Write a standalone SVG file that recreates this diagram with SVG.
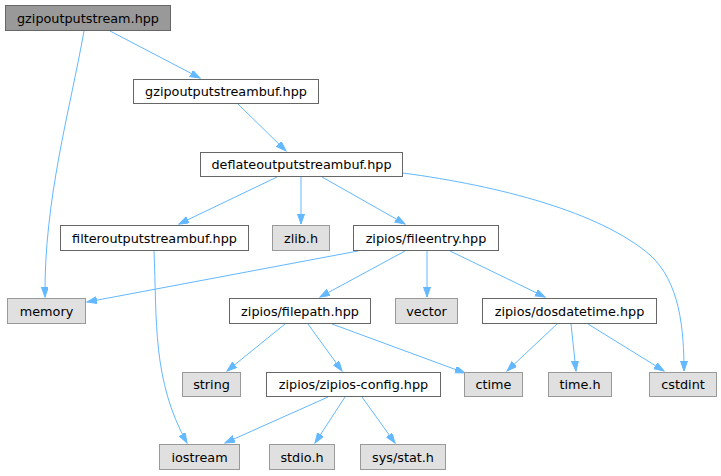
<svg xmlns="http://www.w3.org/2000/svg" width="721" height="476" viewBox="0 0 721 476">
<defs>
<style>
text{font-family:"DejaVu Sans",Verdana,sans-serif;font-size:12.8px;fill:#000;text-anchor:middle}
.n rect{fill:#fff;stroke:#666}
.x rect{fill:#e0e0e0;stroke:#999}
.r rect{fill:#999;stroke:#666}
#edges path{fill:none;stroke:#63b8ff;stroke-width:1}
</style>
<marker id="a" markerUnits="userSpaceOnUse" markerWidth="11" markerHeight="8" refX="10" refY="3.5" orient="auto">
<path d="M0,0 L10,3.5 L0,7 z" fill="#63b8ff" stroke="#63b8ff"/>
</marker>
</defs>
<rect width="721" height="476" fill="#fff"/>
<g id="edges">
<path d="M110,31 L200,78" marker-end="url(#a)"/>
<path d="M84,31 C70,110 44,200 45,297" marker-end="url(#a)"/>
<path d="M238,104 L286,151" marker-end="url(#a)"/>
<path d="M277,177 L179,224" marker-end="url(#a)"/>
<path d="M301,177 L301,224" marker-end="url(#a)"/>
<path d="M322,177 L405,224" marker-end="url(#a)"/>
<path d="M403,173 C500,186 600,212 650,255 C680,282 684,330 684,371" marker-end="url(#a)"/>
<path d="M358,251 L87,302" marker-end="url(#a)"/>
<path d="M405,251 L320,297" marker-end="url(#a)"/>
<path d="M427,251 L427,297" marker-end="url(#a)"/>
<path d="M450,251 L545,297" marker-end="url(#a)"/>
<path d="M154,251 C157,320 152,380 187,443" marker-end="url(#a)"/>
<path d="M285,324 L227,371" marker-end="url(#a)"/>
<path d="M308,324 L342,371" marker-end="url(#a)"/>
<path d="M332,324 L465,373" marker-end="url(#a)"/>
<path d="M557,324 L507,371" marker-end="url(#a)"/>
<path d="M571,324 L576,371" marker-end="url(#a)"/>
<path d="M588,324 L664,371" marker-end="url(#a)"/>
<path d="M328,397 L225,443" marker-end="url(#a)"/>
<path d="M345,397 L315,443" marker-end="url(#a)"/>
<path d="M362,397 L395,443" marker-end="url(#a)"/>
</g>
<g id="n_root" class="r"><rect x="5.5" y="5.5" width="165" height="25"/><text x="88" y="22.5">gzipoutputstream.hpp</text></g>
<g id="n_gzbuf" class="n"><rect x="133.5" y="79.5" width="185" height="24"/><text x="226" y="96">gzipoutputstreambuf.hpp</text></g>
<g id="n_deflate" class="n"><rect x="200.5" y="152.5" width="202" height="24"/><text x="301.5" y="169">deflateoutputstreambuf.hpp</text></g>
<g id="n_filter" class="n"><rect x="60.5" y="225.5" width="188" height="25"/><text x="154.5" y="242.5">filteroutputstreambuf.hpp</text></g>
<g id="n_zlib" class="x"><rect x="272.5" y="225.5" width="57" height="25"/><text x="301" y="242.5">zlib.h</text></g>
<g id="n_fileentry" class="n"><rect x="353.5" y="225.5" width="145" height="25"/><text x="426" y="242.5">zipios/fileentry.hpp</text></g>
<g id="n_memory" class="x"><rect x="7.5" y="298.5" width="78" height="25"/><text x="46.5" y="315.5">memory</text></g>
<g id="n_filepath" class="n"><rect x="229.5" y="298.5" width="141" height="25"/><text x="300" y="315.5">zipios/filepath.hpp</text></g>
<g id="n_vector" class="x"><rect x="395.5" y="298.5" width="62" height="25"/><text x="426.5" y="315.5">vector</text></g>
<g id="n_dosdatetime" class="n"><rect x="482.5" y="298.5" width="174" height="25"/><text x="569.5" y="315.5">zipios/dosdatetime.hpp</text></g>
<g id="n_string" class="x"><rect x="182.5" y="372.5" width="58" height="24"/><text x="211.5" y="389">string</text></g>
<g id="n_config" class="n"><rect x="266.5" y="372.5" width="174" height="24"/><text x="353.5" y="389">zipios/zipios-config.hpp</text></g>
<g id="n_ctime" class="x"><rect x="464.5" y="372.5" width="58" height="24"/><text x="493.5" y="389">ctime</text></g>
<g id="n_timeh" class="x"><rect x="548.5" y="372.5" width="63" height="24"/><text x="580" y="389">time.h</text></g>
<g id="n_cstdint" class="x"><rect x="649.5" y="372.5" width="67" height="24"/><text x="683" y="389">cstdint</text></g>
<g id="n_iostream" class="x"><rect x="159.5" y="444.5" width="80" height="25"/><text x="199.5" y="461.5">iostream</text></g>
<g id="n_stdio" class="x"><rect x="269.5" y="444.5" width="65" height="25"/><text x="302" y="461.5">stdio.h</text></g>
<g id="n_sysstat" class="x"><rect x="360.5" y="444.5" width="85" height="25"/><text x="403" y="461.5">sys/stat.h</text></g>
</svg>
